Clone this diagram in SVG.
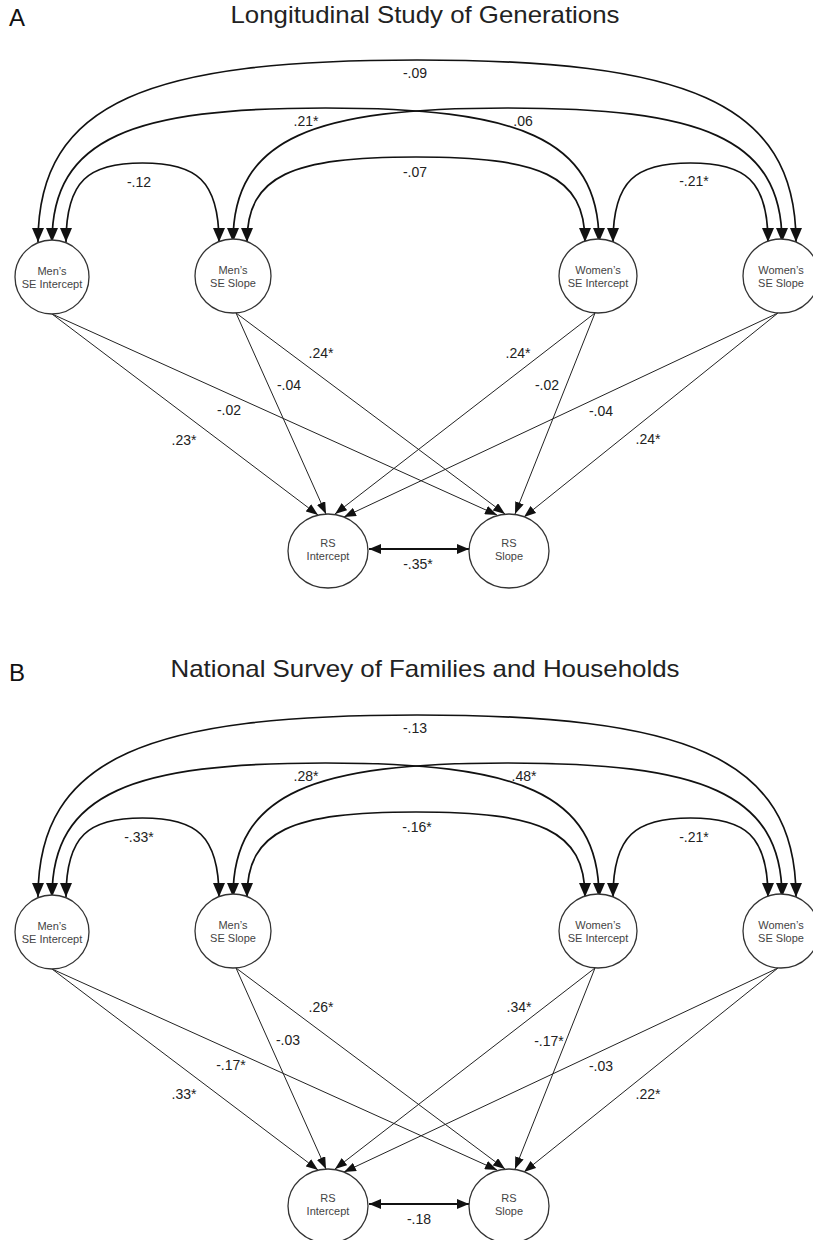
<svg xmlns="http://www.w3.org/2000/svg" width="813" height="1240" viewBox="0 0 813 1240">
<defs>
<style>
.bg{fill:#fff}
.node ellipse{fill:#fff;stroke:#333;stroke-width:1.3}
.nt{font-family:"Liberation Sans",Arial,sans-serif;font-size:11px;fill:#444;text-anchor:middle}
.lbl{font-family:"Liberation Sans",Arial,sans-serif;font-size:14px;fill:#222;text-anchor:middle}
.ttl{font-family:"Liberation Sans",Arial,sans-serif;font-size:24px;fill:#222;text-anchor:middle}
.pl{font-family:"Liberation Sans",Arial,sans-serif;font-size:24px;fill:#111}
.arc{fill:none;stroke:#111;stroke-width:1.7;marker-start:url(#ah);marker-end:url(#ah)}
.reg{fill:none;stroke:#222;stroke-width:1;marker-end:url(#sh)}
.cov{fill:none;stroke:#111;stroke-width:2;marker-start:url(#ch);marker-end:url(#ch)}
</style>
<marker id="ah" markerUnits="userSpaceOnUse" viewBox="0 0 14 12" markerWidth="14" markerHeight="12" refX="14" refY="6" orient="auto-start-reverse"><path d="M0,0 L14,6 L0,12 z" fill="#111"/></marker>
<marker id="sh" markerUnits="userSpaceOnUse" viewBox="0 0 12 9" markerWidth="12" markerHeight="9" refX="12" refY="4.5" orient="auto"><path d="M0,0 L12,4.5 L0,9 z" fill="#111"/></marker>
<marker id="ch" markerUnits="userSpaceOnUse" viewBox="0 0 12 10" markerWidth="12" markerHeight="10" refX="12" refY="5" orient="auto-start-reverse"><path d="M0,0 L12,5 L0,10 z" fill="#111"/></marker>
</defs>
<rect class="bg" x="0" y="0" width="813" height="1240"/>

<g id="panelA">
<text class="pl" x="9" y="26">A</text>
<text class="ttl" x="425" y="23" textLength="389" lengthAdjust="spacingAndGlyphs">Longitudinal Study of Generations</text>
<g id="connectorsA">
<path class="arc" d="M66,242 C66,180 89,163 142.5,163 C196,163 219,180 219,242"/>
<path class="arc" d="M247,242 C247,175 292,157 416,157 C540,157 585,175 585,242"/>
<path class="arc" d="M613,242 C613,180 636,163 690.5,163 C745,163 768,180 768,242"/>
<path class="arc" d="M52,242 C52,137 134,108 325.5,108 C517,108 599,137 599,242"/>
<path class="arc" d="M233,242 C233,137 315,108 507.5,108 C700,108 782,137 782,242"/>
<path class="arc" d="M38,242 C38,100 152,60 417,60 C682,60 796,100 796,242"/>
<path class="reg" d="M52,314 L318,515"/>
<path class="reg" d="M52,314 L497,515"/>
<path class="reg" d="M236,313 L326,514"/>
<path class="reg" d="M236,313 L505,514"/>
<path class="reg" d="M595,313 L335,514"/>
<path class="reg" d="M595,313 L515,514"/>
<path class="reg" d="M778,313 L344,517"/>
<path class="reg" d="M778,313 L524,517"/>
<path class="cov" d="M369,549 L469,549"/>
</g>
<g id="labelsA">
<text class="lbl" x="415" y="78">-.09</text>
<text class="lbl" x="306" y="126">.21*</text>
<text class="lbl" x="523" y="126">.06</text>
<text class="lbl" x="139" y="187">-.12</text>
<text class="lbl" x="415" y="177">-.07</text>
<text class="lbl" x="694" y="186">-.21*</text>
<text class="lbl" x="184" y="445">.23*</text>
<text class="lbl" x="229" y="415">-.02</text>
<text class="lbl" x="289" y="390">-.04</text>
<text class="lbl" x="321" y="358">.24*</text>
<text class="lbl" x="518" y="358">.24*</text>
<text class="lbl" x="547" y="390">-.02</text>
<text class="lbl" x="601" y="416">-.04</text>
<text class="lbl" x="648" y="444">.24*</text>
<text class="lbl" x="418" y="569">-.35*</text>
</g>
<g id="A-mens-se-intercept" class="node"><ellipse cx="52" cy="277" rx="37" ry="37"/><text class="nt" x="52" y="275">Men’s</text><text class="nt" x="52" y="288">SE Intercept</text></g>
<g id="A-mens-se-slope" class="node"><ellipse cx="233" cy="276" rx="38" ry="37"/><text class="nt" x="233" y="274">Men’s</text><text class="nt" x="233" y="287">SE Slope</text></g>
<g id="A-womens-se-intercept" class="node"><ellipse cx="598" cy="276" rx="39" ry="37"/><text class="nt" x="598" y="274">Women’s</text><text class="nt" x="598" y="287">SE Intercept</text></g>
<g id="A-womens-se-slope" class="node"><ellipse cx="781" cy="276" rx="38" ry="37"/><text class="nt" x="781" y="274">Women’s</text><text class="nt" x="781" y="287">SE Slope</text></g>
<g id="A-rs-intercept" class="node"><ellipse cx="328" cy="551" rx="40" ry="37"/><text class="nt" x="328" y="547">RS</text><text class="nt" x="328" y="560">Intercept</text></g>
<g id="A-rs-slope" class="node"><ellipse cx="509" cy="551" rx="40" ry="37"/><text class="nt" x="509" y="547">RS</text><text class="nt" x="509" y="560">Slope</text></g>
</g>

<g id="panelB" transform="translate(0,655)">
<text class="pl" x="9" y="26">B</text>
<text class="ttl" x="425" y="22" textLength="509" lengthAdjust="spacingAndGlyphs">National Survey of Families and Households</text>
<g id="connectorsB">
<path class="arc" d="M66,242 C66,180 89,163 142.5,163 C196,163 219,180 219,242"/>
<path class="arc" d="M247,242 C247,175 292,157 416,157 C540,157 585,175 585,242"/>
<path class="arc" d="M613,242 C613,180 636,163 690.5,163 C745,163 768,180 768,242"/>
<path class="arc" d="M52,242 C52,137 134,108 325.5,108 C517,108 599,137 599,242"/>
<path class="arc" d="M233,242 C233,137 315,108 507.5,108 C700,108 782,137 782,242"/>
<path class="arc" d="M38,242 C38,100 152,60 417,60 C682,60 796,100 796,242"/>
<path class="reg" d="M52,314 L318,515"/>
<path class="reg" d="M52,314 L497,515"/>
<path class="reg" d="M236,313 L326,514"/>
<path class="reg" d="M236,313 L505,514"/>
<path class="reg" d="M595,313 L335,514"/>
<path class="reg" d="M595,313 L515,514"/>
<path class="reg" d="M778,313 L344,517"/>
<path class="reg" d="M778,313 L524,517"/>
<path class="cov" d="M369,549 L469,549"/>
</g>
<g id="labelsB">
<text class="lbl" x="415" y="78">-.13</text>
<text class="lbl" x="306" y="126">.28*</text>
<text class="lbl" x="524" y="126">.48*</text>
<text class="lbl" x="139" y="187">-.33*</text>
<text class="lbl" x="417" y="177">-.16*</text>
<text class="lbl" x="694" y="187">-.21*</text>
<text class="lbl" x="184" y="444">.33*</text>
<text class="lbl" x="231" y="415">-.17*</text>
<text class="lbl" x="288" y="390">-.03</text>
<text class="lbl" x="321" y="357">.26*</text>
<text class="lbl" x="519" y="357">.34*</text>
<text class="lbl" x="549" y="391">-.17*</text>
<text class="lbl" x="601" y="416">-.03</text>
<text class="lbl" x="648" y="444">.22*</text>
<text class="lbl" x="419" y="569">-.18</text>
</g>
<g id="B-mens-se-intercept" class="node"><ellipse cx="52" cy="277" rx="37" ry="37"/><text class="nt" x="52" y="275">Men’s</text><text class="nt" x="52" y="288">SE Intercept</text></g>
<g id="B-mens-se-slope" class="node"><ellipse cx="233" cy="276" rx="38" ry="37"/><text class="nt" x="233" y="274">Men’s</text><text class="nt" x="233" y="287">SE Slope</text></g>
<g id="B-womens-se-intercept" class="node"><ellipse cx="598" cy="276" rx="39" ry="37"/><text class="nt" x="598" y="274">Women’s</text><text class="nt" x="598" y="287">SE Intercept</text></g>
<g id="B-womens-se-slope" class="node"><ellipse cx="781" cy="276" rx="38" ry="37"/><text class="nt" x="781" y="274">Women’s</text><text class="nt" x="781" y="287">SE Slope</text></g>
<g id="B-rs-intercept" class="node"><ellipse cx="328" cy="551" rx="40" ry="37"/><text class="nt" x="328" y="547">RS</text><text class="nt" x="328" y="560">Intercept</text></g>
<g id="B-rs-slope" class="node"><ellipse cx="509" cy="551" rx="40" ry="37"/><text class="nt" x="509" y="547">RS</text><text class="nt" x="509" y="560">Slope</text></g>
</g>
</svg>
